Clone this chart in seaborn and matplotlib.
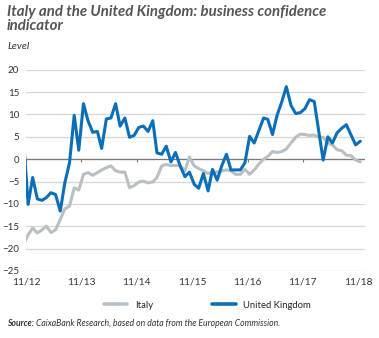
import matplotlib
matplotlib.use("Agg")
import matplotlib.pyplot as plt
import seaborn as sns
import pandas as pd
import numpy as np

# ---- data (monthly, Oct-2012 .. Nov-2018; Oct-2012 only shows as the clipped left edge) ----
italy = [-19.1,
         -16.9, -15.4, -16.5, -15.8, -15.0, -16.4, -15.8, -13.5, -11.1, -10.5, -6.4, -6.9,
         -3.4, -3.0, -3.6, -3.0, -2.4, -1.9, -1.5, -2.6, -2.9, -2.9, -6.4, -5.9,
         -5.1, -4.9, -5.3, -5.1, -4.1, -1.5, -1.2, -1.4, -1.4, -1.5, -2.6, 0.5,
         -1.5, -2.1, -2.6, -3.2, -2.9, -2.9, -2.6, -2.4, -2.6, -3.4, -3.4, -2.3,
         -3.4, -2.4, -1.1, 0.0, 0.6, 1.7, 1.5, 1.7, 2.3, 3.6, 4.9, 5.6,
         5.5, 5.3, 5.4, 4.9, 4.9, 3.6, 3.2, 2.1, 1.9, 0.9, 0.8, -0.2, -0.6]
uk = [4.9,
      -10.1, -4.1, -8.9, -9.2, -8.6, -7.5, -7.9, -11.6, -5.3, -0.8, 9.8, 2.0,
      12.4, 8.6, 6.0, 6.2, 2.4, 9.0, 9.2, 12.4, 7.4, 9.2, 4.9, 5.3,
      7.1, 7.4, 6.2, 8.6, 1.4, 1.1, 2.9, -0.6, 1.5, -1.5, -3.9, -2.9,
      -5.6, -6.5, -3.2, -7.1, -2.3, -4.7, -1.5, 1.1, -2.4, -2.4, -2.4, -0.8,
      5.1, 3.6, 6.4, 9.2, 8.9, 5.5, 9.8, 12.8, 16.2, 12.0, 10.2, 10.4,
      11.3, 13.3, 12.9, 6.0, -0.2, 5.0, 3.6, 5.9, 6.9, 7.7, 5.4, 3.2, 4.0]
dates = pd.date_range("2012-10-01", periods=len(uk), freq="MS") + pd.Timedelta(days=14)
series_names = ["Italy", "United Kingdom"]
tick_labels = ["11/12", "11/13", "11/14", "11/15", "11/16", "11/17", "11/18"]
tick_dates = [pd.Timestamp(f"20{lab[-2:]}-11-01") for lab in tick_labels]
y_ticks = list(range(-25, 21, 5))

df = pd.DataFrame({
    "date": list(dates) * 2,
    "value": italy + uk,
    "series": [series_names[0]] * len(italy) + [series_names[1]] * len(uk),
})

sns.set_style("white")
plt.rcParams["font.family"] = ["Lato", "DejaVu Sans"]

fig = plt.figure(figsize=(3.79, 3.38), dpi=100)
ax = fig.add_axes([26 / 379, 1 - 271 / 338, (365 - 26) / 379, (271 - 69.7) / 338])

palette = {"Italy": "#b9c0c4", "United Kingdom": "#0a6fb8"}
sns.lineplot(data=df, x="date", y="value", hue="series", palette=palette,
             linewidth=2.2, ax=ax, legend=True)

ax.set_ylim(-25, 20)
ax.set_xlim(pd.Timestamp("2012-11-01"), pd.Timestamp("2018-12-16"))
ax.set_yticks(y_ticks)
ax.set_xticks(tick_dates)
ax.set_xticklabels(tick_labels)
ax.set_xlabel("")
ax.set_ylabel("")
for s in ax.spines.values():
    s.set_visible(False)
ax.grid(axis="y", color="#d4d6d8", linewidth=0.9, zorder=0)
ax.grid(axis="x", visible=False)
ax.set_axisbelow(True)
ax.axhline(0, color="#7a7a7a", linewidth=0.9, zorder=1)
ax.vlines(tick_dates, -0.7, 0, color="#7a7a7a", linewidth=0.8, zorder=1)
ax.tick_params(axis="y", length=0, labelsize=7, colors="#333333", pad=5)
ax.tick_params(axis="x", length=0, labelsize=7.3, colors="#333333", pad=5)

leg = ax.legend(loc="upper center", bbox_to_anchor=(0.535, -0.105), ncol=2, frameon=False,
                fontsize=6.8, handlelength=2.5, columnspacing=6.3, handletextpad=0.8)
for line in leg.get_lines():
    line.set_linewidth(2.6)

fig.text(7 / 379, 1 - 5 / 338, "Italy and the United Kingdom: business confidence\nindicator",
         ha="left", va="top", fontsize=10.8, fontweight="bold", fontstyle="italic",
         color="#555555", linespacing=1.0)
fig.text(7 / 379, 1 - 42 / 338, "Level", ha="left", va="top", fontsize=7.5,
         fontstyle="italic", color="#333333")

t = fig.text(7 / 379, 1 - 326 / 338, "Source:", ha="left", va="baseline", fontsize=6.2,
             fontweight="bold", fontstyle="italic", color="#333333")
ax.annotate(" CaixaBank Research, based on data from the European Commission.",
            xy=(1, 0), xycoords=t, ha="left", va="bottom", fontsize=6.2,
            fontstyle="italic", color="#333333", annotation_clip=False)

fig.savefig("out.png", dpi=100, facecolor="white")
